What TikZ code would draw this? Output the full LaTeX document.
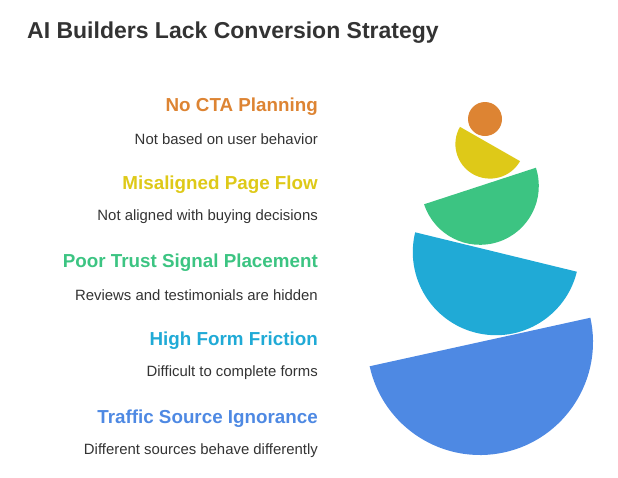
\documentclass[tikz,border=0pt]{standalone}
\usepackage{fontspec}
\setmainfont{Liberation Sans}
\definecolor{ctaorange}{HTML}{DD8433}
\definecolor{flowyellow}{HTML}{DEC918}
\definecolor{trustgreen}{HTML}{3CC482}
\definecolor{formcyan}{HTML}{20AAD6}
\definecolor{trafficblue}{HTML}{4E89E3}
\tikzset{
  head/.style={anchor=east,inner sep=0pt,font=\bfseries\fontsize{18.8}{21}\selectfont},
  sub/.style={anchor=east,inner sep=0pt,text=black!80,font=\fontsize{14.9}{17}\selectfont}
}
\newcommand{\bowl}[5]{\fill[#5] (#1,#2) ++(#4:#3) arc[start angle=#4, end angle=#4+180, radius=#3] -- cycle;}
\begin{document}
\begin{tikzpicture}[x=1pt,y=-1pt]
\useasboundingbox (0,0) rectangle (618,477);

\node [anchor=west,inner sep=0pt,font=\bfseries\fontsize{23}{26}\selectfont,text=black!80] at (27,33) (T) {AI Builders Lack Conversion Strategy};

\node [head,text=ctaorange] at (318,107) (H1) {No CTA Planning};
\node [sub] at (318,139) (S1) {Not based on user behavior};
\node [head,text=flowyellow] at (318,185) (H2) {Misaligned Page Flow};
\node [sub] at (318,217) (S2) {Not aligned with buying decisions};
\node [head,text=trustgreen] at (318,263) (H3) {Poor Trust Signal Placement};
\node [sub] at (318,295) (S3) {Reviews and testimonials are hidden};
\node [head,text=formcyan] at (318,341) (H4) {High Form Friction};
\node [sub] at (318,373) (S4) {Difficult to complete forms};
\node [head,text=trafficblue] at (318,419) (H5) {Traffic Source Ignorance};
\node [sub] at (318,451) (S5) {Different sources behave differently};

\fill[ctaorange] (485,119) circle [radius=17];
\bowl{490}{144}{34.6}{29.7}{flowyellow}
\bowl{480}{186}{58.8}{-18.1}{trustgreen}
\bowl{496}{252}{83.2}{13.7}{formcyan}
\bowl{480}{342}{113}{-12.4}{trafficblue}
\end{tikzpicture}
\end{document}
